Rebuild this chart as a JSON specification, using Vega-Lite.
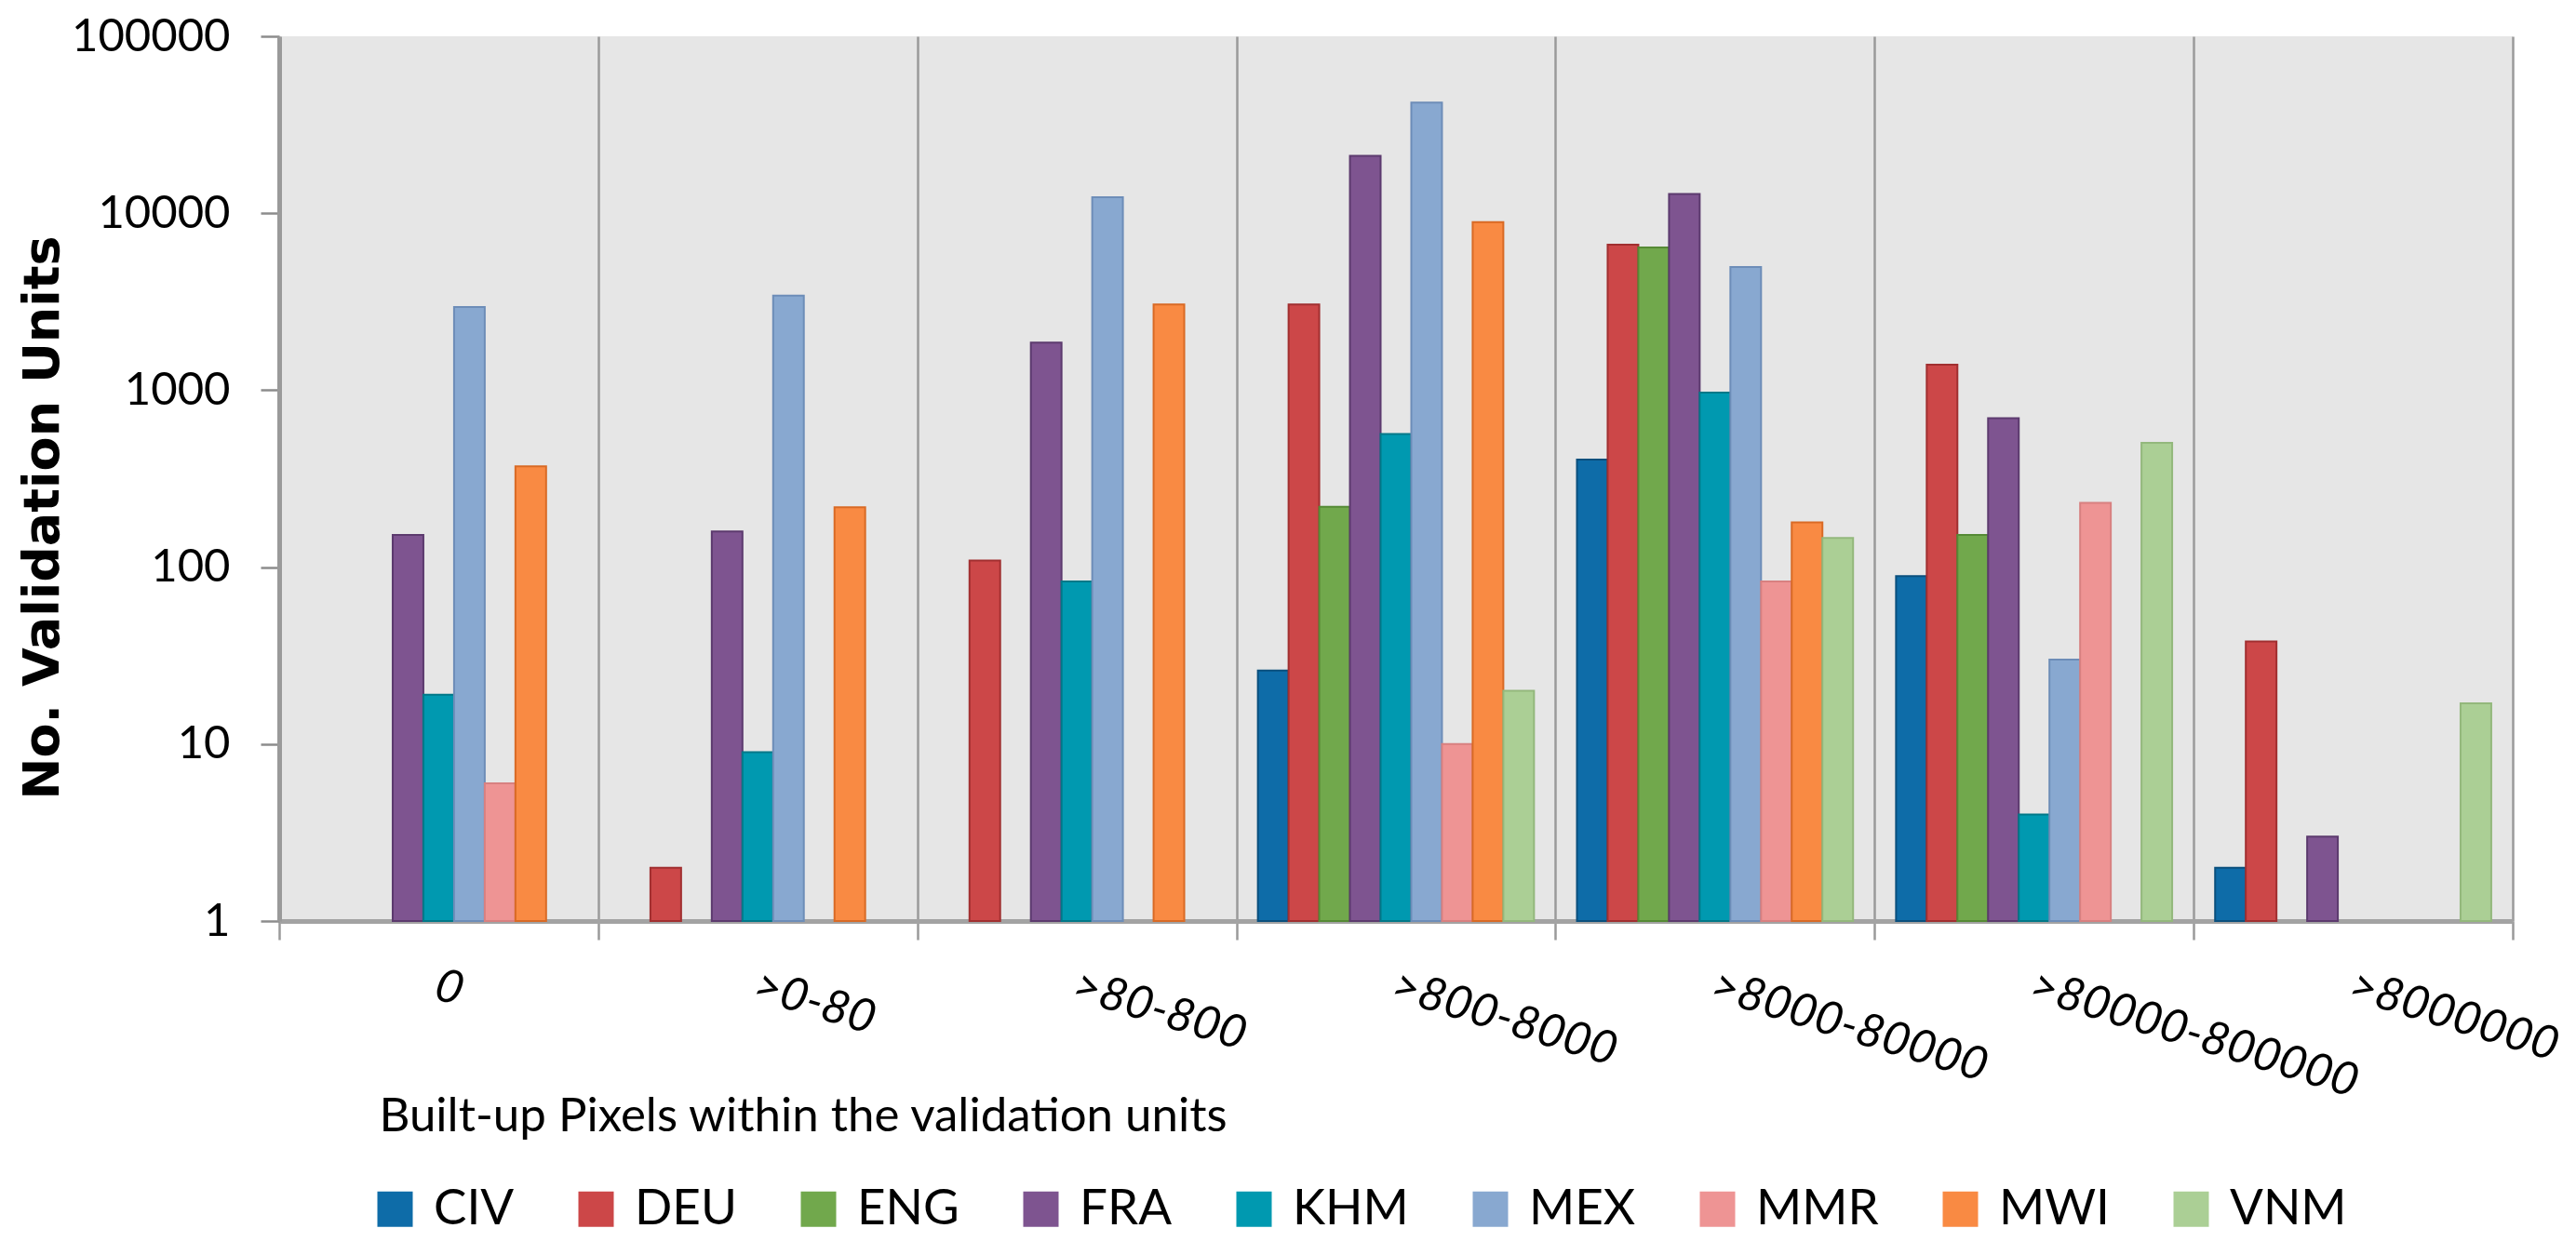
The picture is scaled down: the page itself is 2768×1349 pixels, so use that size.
{
  "$schema": "https://vega.github.io/schema/vega-lite/v6.json",
  "autosize": "none",
  "width": 2400,
  "height": 951,
  "padding": {"left": 300, "top": 39, "right": 68, "bottom": 359},
  "background": "white",
  "config": {
    "font": "Lato",
    "view": {"fill": "#E6E6E6", "stroke": null}
  },
  "data": {
    "values": [
      {"range": "0", "country": "FRA", "count": 152},
      {"range": "0", "country": "KHM", "count": 19},
      {"range": "0", "country": "MEX", "count": 2950},
      {"range": "0", "country": "MMR", "count": 6},
      {"range": "0", "country": "MWI", "count": 371},
      {"range": ">0-80", "country": "DEU", "count": 2},
      {"range": ">0-80", "country": "FRA", "count": 159},
      {"range": ">0-80", "country": "KHM", "count": 9},
      {"range": ">0-80", "country": "MEX", "count": 3420},
      {"range": ">0-80", "country": "MWI", "count": 218},
      {"range": ">80-800", "country": "DEU", "count": 109},
      {"range": ">80-800", "country": "FRA", "count": 1860},
      {"range": ">80-800", "country": "KHM", "count": 83},
      {"range": ">80-800", "country": "MEX", "count": 12300},
      {"range": ">80-800", "country": "MWI", "count": 3050},
      {"range": ">800-8000", "country": "CIV", "count": 26},
      {"range": ">800-8000", "country": "DEU", "count": 3050},
      {"range": ">800-8000", "country": "ENG", "count": 219},
      {"range": ">800-8000", "country": "FRA", "count": 21100},
      {"range": ">800-8000", "country": "KHM", "count": 566},
      {"range": ">800-8000", "country": "MEX", "count": 42200},
      {"range": ">800-8000", "country": "MMR", "count": 10},
      {"range": ">800-8000", "country": "MWI", "count": 8900},
      {"range": ">800-8000", "country": "VNM", "count": 20},
      {"range": ">8000-80000", "country": "CIV", "count": 405},
      {"range": ">8000-80000", "country": "DEU", "count": 6650},
      {"range": ">8000-80000", "country": "ENG", "count": 6400},
      {"range": ">8000-80000", "country": "FRA", "count": 12850},
      {"range": ">8000-80000", "country": "KHM", "count": 970},
      {"range": ">8000-80000", "country": "MEX", "count": 4970},
      {"range": ">8000-80000", "country": "MMR", "count": 83},
      {"range": ">8000-80000", "country": "MWI", "count": 179},
      {"range": ">8000-80000", "country": "VNM", "count": 146},
      {"range": ">80000-800000", "country": "CIV", "count": 89},
      {"range": ">80000-800000", "country": "DEU", "count": 1395},
      {"range": ">80000-800000", "country": "ENG", "count": 152},
      {"range": ">80000-800000", "country": "FRA", "count": 694},
      {"range": ">80000-800000", "country": "KHM", "count": 4},
      {"range": ">80000-800000", "country": "MEX", "count": 30},
      {"range": ">80000-800000", "country": "MMR", "count": 231},
      {"range": ">80000-800000", "country": "VNM", "count": 504},
      {"range": ">8000000", "country": "CIV", "count": 2},
      {"range": ">8000000", "country": "DEU", "count": 38},
      {"range": ">8000000", "country": "FRA", "count": 3},
      {"range": ">8000000", "country": "VNM", "count": 17}
    ]
  },
  "mark": {"type": "bar", "strokeWidth": 2},
  "encoding": {
    "x": {
      "field": "range",
      "type": "nominal",
      "sort": ["0", ">0-80", ">80-800", ">800-8000", ">8000-80000", ">80000-800000", ">8000000"],
      "scale": {"paddingInner": 0, "paddingOuter": 0},
      "axis": {
        "tickBand": "extent",
        "grid": true,
        "gridColor": "#9a9a9a",
        "gridWidth": 2.5,
        "ticks": true,
        "tickSize": 20,
        "tickColor": "#9a9a9a",
        "tickWidth": 2.5,
        "domainColor": "#a3a3a3",
        "domainWidth": 5,
        "labelAngle": 17,
        "labelAlign": "left",
        "labelBaseline": "top",
        "labelPadding": 24,
        "labelOffset": 4,
        "labelFont": "Lato",
        "labelFontStyle": "italic",
        "labelFontSize": 50,
        "labelColor": "#000000",
        "labelLimit": 0,
        "labelOverlap": false,
        "labelBound": false,
        "labelFlush": false,
        "title": "Built-up Pixels within the validation units",
        "titleFont": "Lato",
        "titleFontSize": 51,
        "titleFontWeight": "normal",
        "titleColor": "#000000",
        "titleAnchor": "start",
        "titleAlign": "left",
        "titleBaseline": "middle",
        "titleX": 107,
        "titleY": 210
      }
    },
    "xOffset": {
      "field": "country",
      "type": "nominal",
      "sort": ["CIV", "DEU", "ENG", "FRA", "KHM", "MEX", "MMR", "MWI", "VNM"],
      "scale": {"paddingInner": 0, "paddingOuter": 0.7}
    },
    "y": {
      "field": "count",
      "type": "quantitative",
      "scale": {"type": "log", "domain": [1, 100000], "nice": false},
      "axis": {
        "values": [1, 10, 100, 1000, 10000, 100000],
        "format": "d",
        "grid": false,
        "tickSize": 20,
        "tickColor": "#8c8c8c",
        "tickWidth": 2.5,
        "domainColor": "#9a9a9a",
        "domainWidth": 5,
        "labelFont": "Lato",
        "labelFontSize": 49,
        "labelColor": "#000000",
        "labelPadding": 33,
        "title": "No. Validation Units",
        "titleFont": "DejaVu Sans",
        "titleFontSize": 54,
        "titleFontWeight": "bold",
        "titleColor": "#000000",
        "titleBaseline": "middle",
        "titleAlign": "center",
        "titleAngle": -90,
        "titleX": -254,
        "titleY": 517
      }
    },
    "y2": {"datum": 1},
    "color": {
      "field": "country",
      "type": "nominal",
      "scale": {
        "domain": ["CIV", "DEU", "ENG", "FRA", "KHM", "MEX", "MMR", "MWI", "VNM"],
        "range": ["#0E6CA8", "#CC4748", "#71A84C", "#7E5490", "#0099B0", "#88A8D0", "#EE9494", "#F98A43", "#ABCF95"]
      },
      "legend": {
        "orient": "none",
        "direction": "horizontal",
        "legendX": 98,
        "legendY": 1234,
        "title": null,
        "padding": 0,
        "symbolType": "square",
        "symbolSize": 1444,
        "symbolStrokeWidth": 0,
        "labelFont": "Lato",
        "labelFontSize": 53,
        "labelColor": "#000000",
        "labelOffset": 15,
        "columnPadding": 61
      }
    },
    "stroke": {
      "field": "country",
      "type": "nominal",
      "scale": {
        "domain": ["CIV", "DEU", "ENG", "FRA", "KHM", "MEX", "MMR", "MWI", "VNM"],
        "range": ["#0A4F7D", "#A12F30", "#558A35", "#5C3A6E", "#007888", "#6D8DB8", "#D88080", "#D96A25", "#93B87C"]
      },
      "legend": null
    }
  }
}
